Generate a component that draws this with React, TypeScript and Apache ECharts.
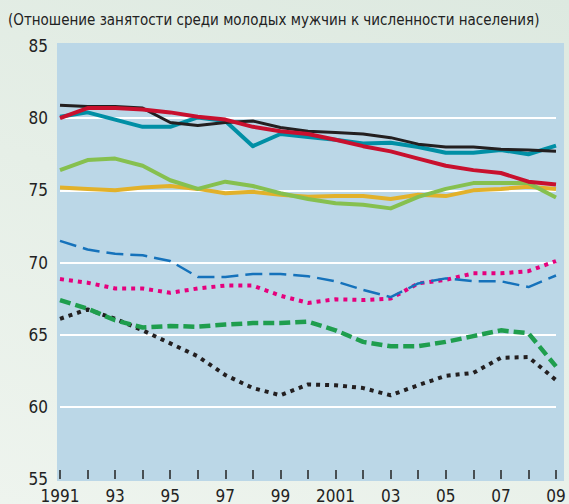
import React, { useEffect, useRef } from "react";
import * as echarts from "echarts";

const years = ["1991","1992","1993","1994","1995","1996","1997","1998","1999","2000","2001","2002","2003","2004","2005","2006","2007","2008","2009"];
const yTicks = [55, 60, 65, 70, 75, 80, 85];

const blackSolid = [80.9, 80.8, 80.8, 80.7, 79.7, 79.5, 79.7, 79.8, 79.35, 79.1, 79.0, 78.9, 78.65, 78.2, 78.0, 78.0, 77.85, 77.8, 77.7];
const redSolid = [80.0, 80.7, 80.7, 80.6, 80.4, 80.1, 79.9, 79.4, 79.1, 78.9, 78.5, 78.06, 77.7, 77.2, 76.7, 76.4, 76.2, 75.6, 75.4];
const tealSolid = [80.1, 80.4, 79.9, 79.4, 79.4, 80.05, 79.8, 78.06, 78.9, 78.7, 78.5, 78.25, 78.3, 78.0, 77.6, 77.6, 77.8, 77.5, 78.1];
const greenSolid = [76.4, 77.1, 77.2, 76.7, 75.7, 75.1, 75.6, 75.3, 74.8, 74.4, 74.1, 74.0, 73.75, 74.55, 75.1, 75.5, 75.5, 75.5, 74.5];
const yellowSolid = [75.2, 75.1, 75.0, 75.2, 75.3, 75.1, 74.8, 74.9, 74.7, 74.55, 74.6, 74.6, 74.4, 74.7, 74.6, 75.0, 75.1, 75.25, 75.1];
const blueDashed = [71.5, 70.9, 70.6, 70.5, 70.1, 69.0, 69.0, 69.2, 69.2, 69.05, 68.7, 68.1, 67.6, 68.55, 68.9, 68.7, 68.7, 68.3, 69.1];
const pinkDotted = [68.85, 68.6, 68.2, 68.2, 67.9, 68.2, 68.4, 68.4, 67.7, 67.2, 67.45, 67.4, 67.5, 68.55, 68.8, 69.25, 69.25, 69.4, 70.1];
const greenDashed = [67.4, 66.8, 66.0, 65.5, 65.6, 65.55, 65.7, 65.8, 65.8, 65.9, 65.3, 64.5, 64.2, 64.2, 64.5, 64.9, 65.3, 65.1, 62.8];
const blackDotted = [66.1, 66.75, 66.1, 65.3, 64.4, 63.5, 62.2, 61.3, 60.8, 61.55, 61.5, 61.3, 60.8, 61.5, 62.15, 62.35, 63.4, 63.45, 61.85];

const subtitle = "(Отношение занятости среди молодых мужчин к численности населения)";
const FONT = '"Liberation Sans Narrow", "Arial Narrow", "DejaVu Sans Condensed", "Liberation Sans", sans-serif';

function yearLabel(v: string) {
  const y = parseInt(v, 10);
  if (y === 1991 || y === 2001) return String(y);
  return v.slice(2);
}

export default function App() {
  const ref = useRef<HTMLDivElement>(null);
  useEffect(() => {
    document.body.style.margin = "0";
    if (!ref.current) return;
    const chart = echarts.init(ref.current, null, { renderer: "svg" });
    const mk = (name: string, data: number[], color: string, width: number, type: any, z: number) => ({
      name,
      type: "line",
      data,
      symbol: "none",
      z,
      lineStyle: { color, width, type, cap: "butt", join: "round" },
    });
    chart.setOption({
      animation: false,
      backgroundColor: "transparent",
      graphic: [
        {
          type: "rect",
          shape: { x: 57, y: 43, width: 507, height: 438 },
          style: { fill: "#bbd7e7" },
          z: -10,
          silent: true,
        },
        {
          type: "text",
          left: 8,
          top: 12,
          style: { text: subtitle, font: `15px ${FONT}`, fill: "#222" },
        },
      ],
      grid: { left: 60, right: 13, top: 46, bottom: 25 },
      xAxis: {
        type: "category",
        data: years,
        boundaryGap: false,
        axisLine: { show: false },
        axisTick: { show: true, inside: true, length: 9, interval: 0, alignWithLabel: true, lineStyle: { color: "#222", width: 1.5 } },
        axisLabel: {
          interval: 1,
          formatter: yearLabel,
          color: "#222",
          fontSize: 17,
          fontFamily: FONT,
          margin: 8,
        },
        splitLine: { show: false },
      },
      yAxis: {
        type: "value",
        min: 55,
        max: 85,
        interval: 5,
        axisLine: { show: false },
        axisTick: { show: false },
        axisLabel: {
          color: "#222",
          fontSize: 17,
          fontFamily: FONT,
          margin: 12,
          padding: [4, 0, 0, 0],
          formatter: (v: number) => (yTicks.includes(v) ? String(v) : ""),
        },
        splitLine: { show: true, showMinLine: false, showMaxLine: false, lineStyle: { color: "#ffffff", width: 2 } },
      },
      series: [
        mk("blackDotted", blackDotted, "#231f20", 4, [4, 5], 3),
        mk("greenDashed", greenDashed, "#1f9e4e", 4.5, [11, 5], 3),
        mk("pinkDotted", pinkDotted, "#e5007d", 4, [4, 5], 3),
        mk("blueDashed", blueDashed, "#1572bb", 2.5, [17, 7], 3),
        mk("yellow", yellowSolid, "#e2b12a", 4, "solid", 3),
        mk("green", greenSolid, "#86c04f", 4, "solid", 4),
        mk("teal", tealSolid, "#008fa5", 4, "solid", 4),
        mk("black", blackSolid, "#231f20", 3, "solid", 5),
        mk("red", redSolid, "#c8102e", 4, "solid", 6),
      ],
    });
    return () => chart.dispose();
  }, []);
  return (
    <div
      style={{
        width: 569,
        height: 504,
        background: "linear-gradient(20deg, #eef4ee 0%, #e6efe7 50%, #dde9e0 100%)",
      }}
    >
      <div ref={ref} style={{ width: 569, height: 504 }} />
    </div>
  );
}
